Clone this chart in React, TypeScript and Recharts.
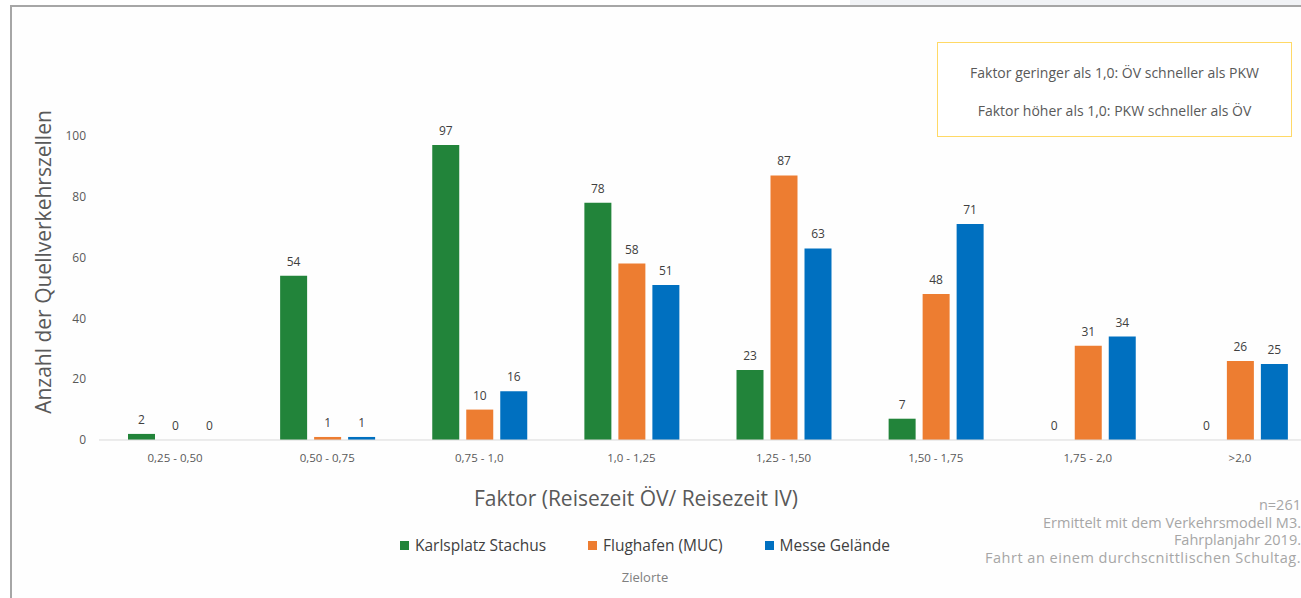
import type { FC } from "react";
import { BarChart, Bar, XAxis, YAxis, LabelList } from "recharts";

// === Daten ===
const categories = [
  "0,25 - 0,50",
  "0,50 - 0,75",
  "0,75 - 1,0",
  "1,0 - 1,25",
  "1,25 - 1,50",
  "1,50 - 1,75",
  "1,75 - 2,0",
  ">2,0",
];
const karlsplatz = [2, 54, 97, 78, 23, 7, 0, 0];
const flughafen = [0, 1, 10, 58, 87, 48, 31, 26];
const messe = [0, 1, 16, 51, 63, 71, 34, 25];
const yTicks = [0, 20, 40, 60, 80, 100];

const seriesNames = ["Karlsplatz Stachus", "Flughafen (MUC)", "Messe Gelände"];
const notes = [
  "n=261",
  "Ermittelt mit dem Verkehrsmodell M3.",
  "Fahrplanjahr 2019.",
  "Fahrt an einem durchscnittlischen Schultag.",
];

// === Farben ===
const COLORS = {
  green: "#22843a",
  orange: "#ed7d31",
  blue: "#0070c0",
  axisText: "#595959",
  label: "#404040",
  note: "#a6a6a6",
} as const;
const seriesColors = [COLORS.green, COLORS.orange, COLORS.blue];

const chartData = categories.map((name, i) => ({
  name,
  karlsplatz: karlsplatz[i],
  flughafen: flughafen[i],
  messe: messe[i],
}));

const labelStyle = { fontSize: 12, fill: COLORS.label };

const App: FC = () => {
  return (
    <div
      style={{
        position: "absolute",
        left: 0,
        top: 0,
        width: 1301,
        height: 598,
        overflow: "hidden",
        background: "#ffffff",
        fontFamily: "'Open Sans', sans-serif",
      }}
    >
      {/* Rahmen */}
      <div
        style={{
          position: "absolute",
          left: 10,
          top: 5,
          right: -10,
          bottom: -10,
          borderTop: "2px solid #a6a6a6",
          borderLeft: "2px solid #a6a6a6",
          background: "#fefefe",
        }}
      />
      <div
        style={{
          position: "absolute",
          left: 850,
          top: 0,
          width: 451,
          height: 5,
          background: "#f1f3f6",
        }}
      />

      {/* Diagramm */}
      <div style={{ position: "absolute", left: 0, top: 0 }}>
        <BarChart
          width={1330}
          height={598}
          data={chartData}
          margin={{ top: 75, right: 14, bottom: 128, left: 0 }}
          barCategoryGap={29}
          barGap={7}
        >
          <XAxis
            dataKey="name"
            height={30}
            tickLine={false}
            axisLine={{ stroke: "#d9d9d9" }}
            tickMargin={8}
            tick={{ fontSize: 11.5, fill: COLORS.axisText }}
            interval={0}
          />
          <YAxis
            width={99}
            domain={[0, 120]}
            ticks={yTicks}
            axisLine={false}
            tickLine={false}
            tickMargin={7}
            tick={{ fontSize: 12, fill: COLORS.axisText }}
          />
          <Bar dataKey="karlsplatz" fill={COLORS.green} minPointSize={0.01} isAnimationActive={false}>
            <LabelList dataKey="karlsplatz" position="top" offset={10} style={labelStyle} />
          </Bar>
          <Bar dataKey="flughafen" fill={COLORS.orange} minPointSize={0.01} isAnimationActive={false}>
            <LabelList dataKey="flughafen" position="top" offset={10} style={labelStyle} />
          </Bar>
          <Bar dataKey="messe" fill={COLORS.blue} minPointSize={0.01} isAnimationActive={false}>
            <LabelList dataKey="messe" position="top" offset={10} style={labelStyle} />
          </Bar>
        </BarChart>
      </div>

      {/* Achsentitel */}
      <div
        style={{
          position: "absolute",
          left: 43,
          top: 262,
          transform: "translate(-50%, -50%) rotate(-90deg)",
          whiteSpace: "nowrap",
          fontSize: 21,
          color: COLORS.axisText,
        }}
      >
        Anzahl der Quellverkehrszellen
      </div>
      <div
        style={{
          position: "absolute",
          left: 636,
          top: 498,
          transform: "translate(-50%, -50%)",
          whiteSpace: "nowrap",
          fontSize: 21,
          color: COLORS.axisText,
        }}
      >
        Faktor (Reisezeit ÖV/ Reisezeit IV)
      </div>

      {/* Legende */}
      <div
        style={{
          position: "absolute",
          left: 400,
          top: 545,
          transform: "translateY(-50%)",
          display: "flex",
          alignItems: "center",
          gap: 42,
          fontSize: 15.5,
          color: COLORS.label,
          whiteSpace: "nowrap",
        }}
      >
        {seriesNames.map((name, i) => (
          <div key={name} style={{ display: "flex", alignItems: "center", gap: 6 }}>
            <span
              style={{
                display: "inline-block",
                width: 9,
                height: 9,
                background: seriesColors[i],
              }}
            />
            <span>{name}</span>
          </div>
        ))}
      </div>
      <div
        style={{
          position: "absolute",
          left: 645,
          top: 577,
          transform: "translate(-50%, -50%)",
          fontSize: 13,
          color: "#808080",
        }}
      >
        Zielorte
      </div>

      {/* Hinweis-Box */}
      <div
        style={{
          position: "absolute",
          left: 937,
          top: 42,
          width: 355,
          height: 95,
          boxSizing: "border-box",
          border: "1.5px solid #ffd966",
          background: "#ffffff",
          fontSize: 14,
          color: COLORS.axisText,
          textAlign: "center",
          whiteSpace: "nowrap",
        }}
      >
        <div style={{ position: "absolute", left: 0, right: 0, top: 29, transform: "translateY(-50%)" }}>
          Faktor geringer als 1,0: ÖV schneller als PKW
        </div>
        <div style={{ position: "absolute", left: 0, right: 0, top: 67, transform: "translateY(-50%)" }}>
          Faktor höher als 1,0: PKW schneller als ÖV
        </div>
      </div>

      {/* Anmerkungen */}
      <div
        style={{
          position: "absolute",
          right: 0,
          top: 496,
          textAlign: "right",
          fontSize: 14.5,
          lineHeight: "17.7px",
          color: COLORS.note,
          whiteSpace: "nowrap",
        }}
      >
        {notes.map((n, i) => (
          <div key={n} style={{ letterSpacing: i === notes.length - 1 ? 0.5 : 0 }}>
            {n}
          </div>
        ))}
      </div>
    </div>
  );
};

export default App;
